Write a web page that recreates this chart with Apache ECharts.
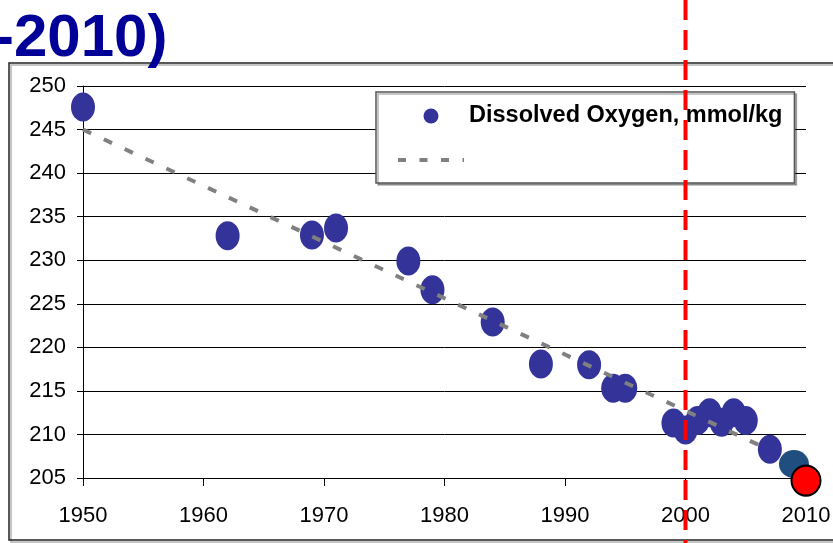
<!DOCTYPE html>
<html>
<head>
<meta charset="utf-8">
<script src="https://cdn.jsdelivr.net/npm/echarts@6/dist/echarts.min.js"></script>
<style>
  html, body { margin: 0; padding: 0; background: #fff; }
  #chart { width: 833px; height: 543px; }
</style>
</head>
<body>
<div id="chart"></div>
<script>
// observed dissolved oxygen (mmol/kg) by year
const years = [1950, 1962, 1969, 1971, 1977, 1979, 1984, 1988, 1992, 1994, 1995,
  1999, 2000, 2001, 2002, 2003, 2004, 2005, 2007];
const oxygen = [247.6, 232.8, 232.9, 233.7, 229.9, 226.6, 222.9, 218.1, 218.0, 215.3, 215.3,
  211.3, 210.5, 211.6, 212.5, 211.4, 212.5, 211.6, 208.3];
// the two last points have their own colours
const recentYear = [2009];
const recentValue = [206.6];
const latestYear = [2010];
const latestValue = [204.7];
// linear trend end points
const trendYears = [1950, 2007];
const trendValues = [245.0, 208.2];
const markerYear = 2000;
const titleText = '-2010)';
const seriesName = 'Dissolved Oxygen, mmol/kg';

const chart = echarts.init(document.getElementById('chart'));

const pairs = (xs, ys) => xs.map((x, i) => [x, ys[i]]);

chart.setOption({
  animation: false,
  backgroundColor: '#fff',
  textStyle: {fontFamily: 'Liberation Sans, Arial, sans-serif'},
  grid: {left: 83, top: 86, right: 27, bottom: 65, outerBoundsMode: 'none', containLabel: false},
  xAxis: {
    type: 'value', min: 1950, max: 2010, interval: 10,
    axisLine: {show: true, lineStyle: {color: '#000', width: 1}},
    axisTick: {show: true, length: 8, lineStyle: {color: '#000'}},
    splitLine: {show: false},
    axisLabel: {color: '#000', fontSize: 22, margin: 27, formatter: v => String(v)}
  },
  yAxis: {
    type: 'value', min: 205, max: 250, interval: 5,
    axisLine: {show: true, lineStyle: {color: '#000', width: 1}},
    axisTick: {show: true, length: 6, lineStyle: {color: '#000'}},
    splitLine: {show: true, lineStyle: {color: '#000', width: 1}},
    axisLabel: {color: '#000', fontSize: 22, margin: 17}
  },
  legend: {
    orient: 'vertical',
    left: 376, top: 92,
    padding: [12, 12, 17, 20],
    itemWidth: 66, itemHeight: 15, itemGap: 26,
    backgroundColor: '#fff',
    borderColor: '#555', borderWidth: 1.5,
    shadowColor: 'rgba(0,0,0,0.3)', shadowOffsetX: 2, shadowOffsetY: 2, shadowBlur: 0,
    textStyle: {color: '#000', fontSize: 23.5, fontWeight: 'bold', lineHeight: 24},
    formatter: name => (name === seriesName ? name : ''),
    data: [
      {name: seriesName, icon: 'circle'},
      {
        name: 'trend',
        itemStyle: {color: 'rgba(0,0,0,0)', borderWidth: 0, opacity: 0},
        lineStyle: {color: '#808080', width: 4, type: [8, 13.5]}
      }
    ]
  },
  graphic: [
    {
      type: 'rect', z: -1, silent: true,
      shape: {x: 9, y: 63, width: 1000, height: 477},
      style: {fill: 'none', stroke: '#222', lineWidth: 1.5,
        shadowColor: 'rgba(0,0,0,0.3)', shadowOffsetX: 2, shadowOffsetY: 2}
    },
    {
      type: 'text', z: 50, x: -6, y: 9,
      style: {
        text: titleText, fill: '#000099',
        fontSize: 60, fontWeight: 'bold', fontFamily: 'Liberation Sans, Arial, sans-serif'
      }
    }
  ],
  series: [
    {
      name: seriesName, type: 'scatter', z: 2, clip: false,
      symbol: 'circle', symbolSize: [24, 29],
      itemStyle: {color: '#333399', opacity: 1},
      data: pairs(years, oxygen)
    },
    {
      name: 'recent', type: 'scatter', z: 2, clip: false,
      symbol: 'circle', symbolSize: [30, 28],
      itemStyle: {color: '#1f4e7f', opacity: 1},
      data: pairs(recentYear, recentValue)
    },
    {
      name: 'trend', type: 'line', z: 3,
      symbol: 'none', silent: true,
      lineStyle: {color: '#808080', width: 4, type: [9, 14]},
      itemStyle: {color: '#808080'},
      data: pairs(trendYears, trendValues)
    },
    {
      name: 'latest', type: 'scatter', z: 4, clip: false,
      symbol: 'circle', symbolSize: [29, 30],
      itemStyle: {color: '#ff0000', borderColor: '#000', borderWidth: 2, opacity: 1},
      data: pairs(latestYear, latestValue)
    }
  ]
});

// red dashed marker line, placed through the x axis scale, runs past the plot
const xPix = chart.convertToPixel({xAxisIndex: 0}, markerYear);
chart.setOption({
  graphic: [
    {},
    {},
    {
      type: 'line', z: 100, silent: true,
      shape: {x1: xPix, y1: 0, x2: xPix, y2: 543},
      style: {stroke: '#ff0000', lineWidth: 4, lineDash: [20, 10]}
    }
  ]
});
</script>
</body>
</html>
